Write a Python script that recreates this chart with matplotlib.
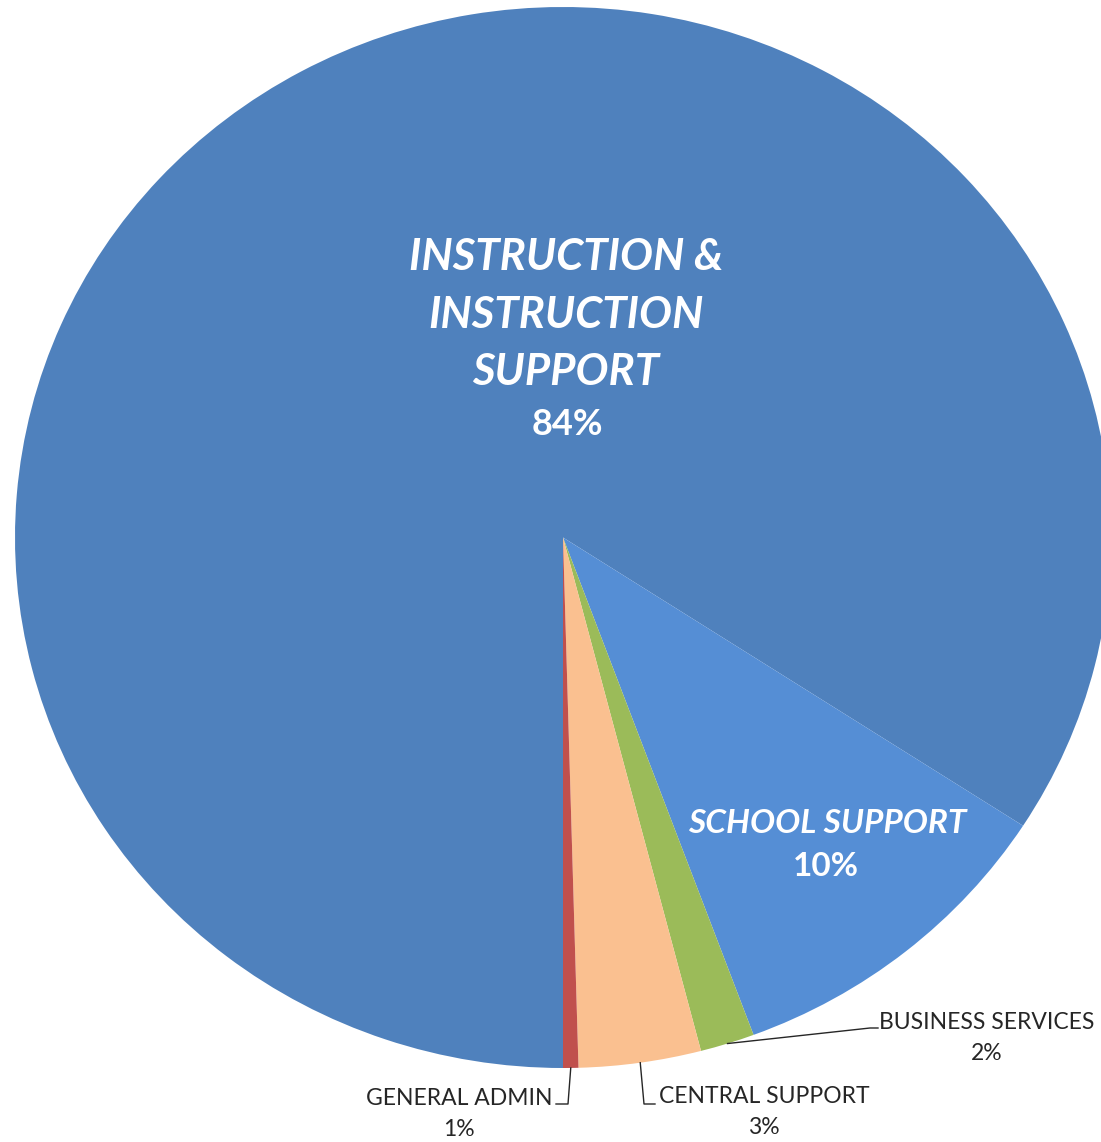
import matplotlib.pyplot as plt
import numpy as np

# budget shares (%), clockwise from 6 o'clock
categories = ["INSTRUCTION & INSTRUCTION SUPPORT", "SCHOOL SUPPORT",
              "BUSINESS SERVICES", "CENTRAL SUPPORT", "GENERAL ADMIN"]
shares = [84.1, 10.2, 1.6, 3.6, 0.45]
pct_labels = ["84%", "10%", "2%", "3%", "1%"]
colors = ["#4F81BD", "#558ED5", "#9BBB59", "#FAC090", "#C0504D"]

FONT = ["Lato", "DejaVu Sans"]
W, H = 1101, 1142

fig = plt.figure(figsize=(W / 100, H / 100), dpi=100)
# the pie in the original is a bit wider than tall and runs off the right edge
ax = fig.add_axes([15 / W, (H - 1068) / H, 1096 / W, 1061 / H])
wedges, _ = ax.pie(shares, colors=colors, startangle=-90, counterclock=False,
                   wedgeprops=dict(linewidth=0))
ax.set_aspect("auto")
ax.set_xlim(-1, 1)
ax.set_ylim(-1, 1)

# overlay in pixel coords for labels and leader lines
ov = fig.add_axes([0, 0, 1, 1])
ov.set_xlim(0, W)
ov.set_ylim(H, 0)
ov.axis("off")


def edge_point(w):
    a = np.deg2rad((w.theta1 + w.theta2) / 2)
    p = ax.transData.transform((np.cos(a), np.sin(a)))
    return ov.transData.inverted().transform(p)


# big white labels inside the wedges
for txt, y in zip(["INSTRUCTION &", "INSTRUCTION", "SUPPORT"], [270, 328, 385]):
    ov.text(566, y, txt, color="white", fontsize=31.5, fontweight="bold",
            fontstyle="italic", ha="center", va="baseline", family=FONT)
ov.text(567, 435, pct_labels[0], color="white", fontsize=26, fontweight="bold",
        ha="center", va="baseline", family=FONT)

ov.text(827, 833, categories[1], color="white", fontsize=24, fontweight="bold",
        fontstyle="italic", ha="center", va="baseline", family=FONT)
ov.text(826, 876, pct_labels[1], color="white", fontsize=24, fontweight="bold",
        ha="center", va="baseline", family=FONT)

# small outside labels with leader lines
outside = {
    2: dict(xy=(987, 1029), path=[(870, 1028), (878, 1028)]),
    3: dict(xy=(764, 1103), path=[(644, 1104), (655, 1104)]),
    4: dict(xy=(459, 1105), path=[(568, 1104), (556, 1104)]),
}
for i, o in outside.items():
    x, y = o["xy"]
    ov.text(x, y, categories[i], color="#262626", fontsize=16.5,
            ha="center", va="baseline", family=FONT)
    ov.text(x, y + 31, pct_labels[i], color="#262626", fontsize=16.5,
            ha="center", va="baseline", family=FONT)
    sx, sy = edge_point(wedges[i])
    xs = [sx] + [p[0] for p in o["path"]]
    ys = [sy] + [p[1] for p in o["path"]]
    ov.plot(xs, ys, color="#262626", linewidth=1)

fig.savefig("out.png", dpi=100)
